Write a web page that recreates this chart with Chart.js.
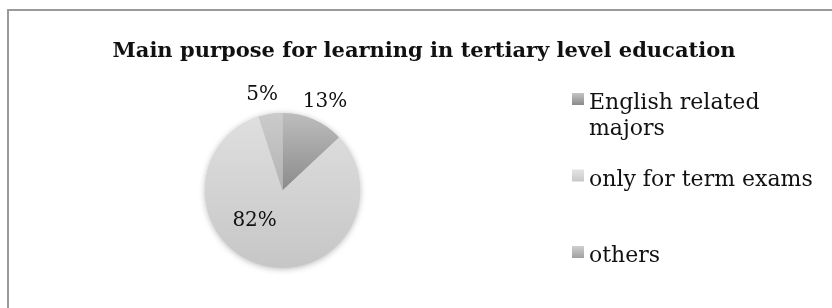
<!DOCTYPE html>
<html>
<head>
<meta charset="utf-8">
<script src="https://cdn.jsdelivr.net/npm/chart.js@4"></script>
<style>
  html, body { margin: 0; padding: 0; background: #fff; }
  #wrap { position: relative; width: 832px; height: 308px; }
</style>
</head>
<body>
<div id="wrap"><canvas id="pieChart"></canvas></div>
<script>
'use strict';

// ── Data ────────────────────────────────────────────────────────────
const TITLE      = 'Main purpose for learning in tertiary level education';
const categories = ['English related majors', 'only for term exams', 'others'];
const shares     = [13, 82, 5];
const pctLabels  = ['13%', '82%', '5%'];

const SERIF = '"DejaVu Serif", "Liberation Serif", serif';

// vertical gradients, a bit like the Office grey fills
const SLICE_STOPS = [
  [['#bdbdbd', 0], ['#8b8b8b', 0.5], ['#7c7c7c', 1]],
  [['#dfdfdf', 0], ['#d3d3d3', 0.5], ['#c6c6c6', 1]],
  [['#cbcbcb', 0], ['#b3b3b3', 0.5], ['#a5a5a5', 1]],
];
const MARKER_STOPS = [
  ['#c4c4c4', '#8a8a8a'],
  ['#e4e4e4', '#c8c8c8'],
  ['#cfcfcf', '#a0a0a0'],
];

function sliceFill(context) {
  const { chart, dataIndex } = context;
  const area = chart.chartArea;
  if (!area) return '#ccc';
  const g = chart.ctx.createLinearGradient(0, area.top, 0, area.bottom);
  SLICE_STOPS[dataIndex].forEach(([c, s]) => g.addColorStop(s, c));
  return g;
}

// ── Frame, title, slice labels, legend ──────────────────────────────
const decorPlugin = {
  id: 'decor',
  beforeDatasetsDraw(chart) {
    const arc = chart.getDatasetMeta(0).data[0];
    if (!arc) return;
    const ctx = chart.ctx;
    ctx.save();
    ctx.shadowColor = 'rgba(0,0,0,0.28)';
    ctx.shadowBlur = 6;
    ctx.shadowOffsetY = 1;
    ctx.fillStyle = '#cfcfcf';
    ctx.beginPath();
    ctx.arc(arc.x, arc.y, arc.outerRadius, 0, Math.PI * 2);
    ctx.fill();
    ctx.restore();
  },
  afterDraw(chart, args, opts) {
    const ctx = chart.ctx;
    ctx.save();

    // frame (only top and left edges fall inside the picture)
    ctx.strokeStyle = '#9a9a9a';
    ctx.lineWidth = 2;
    ctx.beginPath();
    ctx.moveTo(8, chart.height + 2);
    ctx.lineTo(8, 10);
    ctx.lineTo(chart.width + 2, 10);
    ctx.stroke();

    // title
    ctx.fillStyle = '#111';
    ctx.font = `bold 21px ${SERIF}`;
    ctx.textAlign = 'center';
    ctx.textBaseline = 'alphabetic';
    ctx.fillText(TITLE, opts.titleX, opts.titleY);

    // percentage labels
    ctx.font = `20px ${SERIF}`;
    ctx.textBaseline = 'middle';
    chart.getDatasetMeta(0).data.forEach((arc, i) => {
      const spot = opts.labelSpots[i];
      const mid = (arc.startAngle + arc.endAngle) / 2 + spot.turn;
      ctx.fillText(pctLabels[i], arc.x + Math.cos(mid) * spot.r, arc.y + Math.sin(mid) * spot.r + 1.5);
    });

    // legend
    ctx.font = `22px ${SERIF}`;
    ctx.textAlign = 'left';
    ctx.textBaseline = 'alphabetic';
    categories.forEach((name, i) => {
      const base = opts.legendTop + i * opts.legendStep;
      const mx = opts.legendX - 17, my = base - 16;
      const g = ctx.createLinearGradient(0, my, 0, my + 12);
      g.addColorStop(0, MARKER_STOPS[i][0]);
      g.addColorStop(1, MARKER_STOPS[i][1]);
      ctx.fillStyle = g;
      ctx.fillRect(mx, my, 12, 12);

      ctx.fillStyle = '#111';
      wrapWords(ctx, name, opts.legendWrap).forEach((line, k) => {
        ctx.fillText(line, opts.legendX, base + k * opts.legendLine);
      });
    });
    ctx.restore();
  },
};

function wrapWords(ctx, text, maxW) {
  const lines = [];
  let cur = '';
  for (const w of text.split(' ')) {
    const next = cur ? `${cur} ${w}` : w;
    if (cur && ctx.measureText(next).width > maxW) {
      lines.push(cur);
      cur = w;
    } else {
      cur = next;
    }
  }
  if (cur) lines.push(cur);
  return lines;
}

// ── Chart ───────────────────────────────────────────────────────────
new Chart(document.getElementById('pieChart'), {
  type: 'pie',
  data: {
    labels: categories,
    datasets: [{
      data: shares,
      backgroundColor: sliceFill,
      borderWidth: 0,
    }],
  },
  options: {
    responsive: true,
    maintainAspectRatio: false,
    animation: false,
    events: [],
    layout: { padding: { top: 113, bottom: 40, left: 200, right: 467 } },
    plugins: {
      legend: { display: false },
      tooltip: { enabled: false },
      title: { display: false },
      decor: {
        titleX: 424,
        titleY: 57,
        labelSpots: [
          { r: 100, turn: 0.03 },
          { r: 40,  turn: 0.52 },
          { r: 99,  turn: -0.05 },
        ],
        legendX: 589,
        legendTop: 109,
        legendStep: 76.5,
        legendLine: 26,
        legendWrap: 232,
      },
    },
  },
  plugins: [decorPlugin],
});
</script>
</body>
</html>
